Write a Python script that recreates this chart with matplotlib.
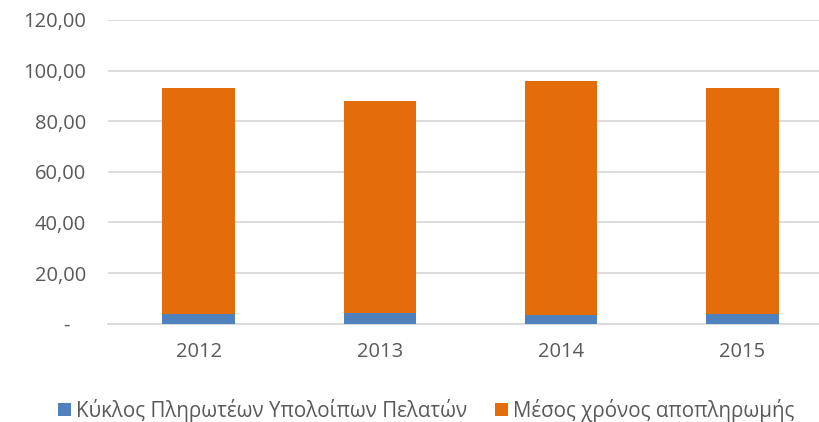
import matplotlib.pyplot as plt
import numpy as np

years = ['2012', '2013', '2014', '2015']
kyklos = [3.7, 4.1, 3.6, 3.95]  # Κύκλος Πληρωτέων Υπολοίπων Πελατών
mesos = [89.4, 83.9, 92.3, 89.15]  # Μέσος χρόνος αποπληρωμής
yticks = [0, 20, 40, 60, 80, 100, 120]
ylabels = ['-   ', '20,00', '40,00', '60,00', '80,00', '100,00', '120,00']

plt.rcParams['font.family'] = ['Open Sans', 'DejaVu Sans']
txt = '#595959'

fig = plt.figure(figsize=(8.19, 4.22), dpi=100)
ax = fig.add_axes([108/819, 1-323.7/422, 725/819, (323.7-20)/422])

x = np.arange(len(years))
ax.bar(x, kyklos, width=0.4, color='#4F81BD', label='Κύκλος Πληρωτέων Υπολοίπων Πελατών', zorder=3)
ax.bar(x, mesos, width=0.4, bottom=kyklos, color='#E46C0A', label='Μέσος χρόνος αποπληρωμής', zorder=3)

ax.set_xlim(-0.5, 3.5)
ax.set_ylim(0, 120)
ax.set_xticks(x)
ax.set_xticklabels(years)
ax.set_yticks(yticks)
ax.set_yticklabels(ylabels)
ax.grid(axis='y', color='#D9D9D9', linewidth=1.3, zorder=0)
ax.tick_params(axis='both', length=0, labelsize=14.5, labelcolor=txt)
ax.tick_params(axis='y', pad=16)
ax.tick_params(axis='x', pad=13)
for s in ['top', 'right', 'left']:
    ax.spines[s].set_visible(False)
ax.spines['bottom'].set_color('#D9D9D9')
ax.spines['bottom'].set_linewidth(1.3)

fig.legend(loc='center', bbox_to_anchor=(0.52, 0.028), ncol=2, frameon=False,
           fontsize=14.8, labelcolor=txt, handlelength=0.63, handleheight=0.63,
           handletextpad=0.25, columnspacing=1.36)

fig.savefig('out.png', dpi=100)
